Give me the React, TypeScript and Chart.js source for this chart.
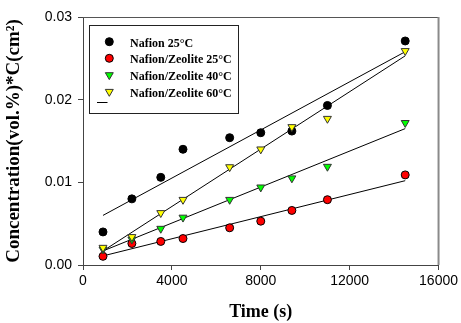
import React, { useEffect, useRef } from 'react';
import { Chart, registerables } from 'chart.js';

Chart.register(...registerables);

// ---- data ----
const timeS = [900, 2200, 3500, 4500, 6600, 8000, 9400, 11000, 14500];
const nafion25 = [0.004, 0.008, 0.0106, 0.014, 0.0154, 0.016, 0.0162, 0.0193, 0.0271];
const nz25 = [0.00105, 0.0026, 0.00285, 0.0032, 0.0045, 0.0053, 0.0066, 0.0079, 0.0109];
const nz40 = [0.0019, 0.0031, 0.0044, 0.00575, 0.0079, 0.0094, 0.0105, 0.0119, 0.0172];
const nz60 = [0.0021, 0.0034, 0.0063, 0.0079, 0.01185, 0.014, 0.0167, 0.0177, 0.0259];

// regression lines (end points)
const fitX = [900, 14500];
const fitNafion25 = [0.006, 0.0258];
const fitNz25 = [0.0011, 0.0102];
const fitNz40 = [0.0017, 0.0165];
const fitNz60 = [0.0017, 0.0253];

const seriesLabels = ['Nafion 25°C', 'Nafion/Zeolite 25°C', 'Nafion/Zeolite 40°C', 'Nafion/Zeolite 60°C'];
const xTickValues = [0, 4000, 8000, 12000, 16000];
const yTickValues = [0, 0.01, 0.02, 0.03];

const xTitle = 'Time (s)';
const yTitle = 'Concentration(vol.%)*C(cm²)';

const pts = (ys: number[]) => ys.map((y, i) => ({ x: timeS[i], y }));
const fit = (ys: number[]) => ys.map((y, i) => ({ x: fitX[i], y }));

const markerStyles = [
  { style: 'circle', fill: '#000000', stroke: '#000000', radius: 4, rotation: 0 },
  { style: 'circle', fill: '#ff0000', stroke: '#000000', radius: 4, rotation: 0 },
  { style: 'triangle', fill: '#00ff00', stroke: '#333333', radius: 4.6, rotation: 180 },
  { style: 'triangle', fill: '#ffff00', stroke: '#333333', radius: 4.6, rotation: 180 },
];

function drawMarker(ctx: CanvasRenderingContext2D, m: any, x: number, y: number) {
  ctx.save();
  ctx.fillStyle = m.fill;
  ctx.strokeStyle = m.stroke;
  ctx.lineWidth = 1;
  ctx.beginPath();
  if (m.style === 'circle') {
    ctx.arc(x, y, m.radius, 0, Math.PI * 2);
  } else {
    let rad = (m.rotation * Math.PI) / 180;
    const r = m.radius;
    ctx.moveTo(x + Math.sin(rad) * r, y - Math.cos(rad) * r);
    rad += (2 * Math.PI) / 3;
    ctx.lineTo(x + Math.sin(rad) * r, y - Math.cos(rad) * r);
    rad += (2 * Math.PI) / 3;
    ctx.lineTo(x + Math.sin(rad) * r, y - Math.cos(rad) * r);
    ctx.closePath();
  }
  ctx.fill();
  ctx.stroke();
  ctx.restore();
}

const framePlugin = {
  id: 'frame',
  afterDraw(chart: any) {
    const { ctx, chartArea } = chart;
    ctx.save();
    ctx.strokeStyle = '#555555';
    ctx.lineWidth = 1;
    ctx.beginPath();
    ctx.moveTo(chartArea.left, chartArea.top + 0.5);
    ctx.lineTo(chartArea.right, chartArea.top + 0.5);
    ctx.stroke();
    ctx.strokeStyle = '#8a8a8a';
    ctx.lineWidth = 2;
    ctx.beginPath();
    ctx.moveTo(chartArea.right, chartArea.top);
    ctx.lineTo(chartArea.right, chartArea.bottom);
    ctx.stroke();
    ctx.restore();
  },
};

const legendPlugin = {
  id: 'boxLegend',
  afterDraw(chart: any) {
    const ctx = chart.ctx as CanvasRenderingContext2D;
    const bx = 89.5, by = 25.5, bw = 149, bh = 88;
    ctx.save();
    ctx.fillStyle = '#ffffff';
    ctx.fillRect(bx, by, bw, bh);
    ctx.strokeStyle = '#222222';
    ctx.lineWidth = 1;
    ctx.strokeRect(bx, by, bw, bh);
    const rowY = [41.7, 58.3, 75, 91.7];
    ctx.font = 'bold 12px "Liberation Serif", "Times New Roman", serif';
    ctx.fillStyle = '#000000';
    ctx.textBaseline = 'alphabetic';
    ctx.textAlign = 'left';
    seriesLabels.forEach((label, i) => {
      drawMarker(ctx, markerStyles[i], 109.3, rowY[i]);
      ctx.fillStyle = '#000000';
      ctx.fillText(label, 130, rowY[i] + 5);
    });
    ctx.strokeStyle = '#000000';
    ctx.lineWidth = 1;
    ctx.beginPath();
    ctx.moveTo(97, 102.5);
    ctx.lineTo(107.5, 102.5);
    ctx.stroke();
    ctx.restore();
  },
};

export default function App() {
  const canvasRef = useRef<HTMLCanvasElement | null>(null);

  useEffect(() => {
    document.body.style.margin = '0';
    const canvas = canvasRef.current;
    if (!canvas) return;

    const seriesData = [nafion25, nz25, nz40, nz60];
    const fitData = [fitNafion25, fitNz25, fitNz40, fitNz60];

    const scatterSets = seriesData.map((ys, i) => ({
      type: 'scatter' as const,
      label: seriesLabels[i],
      data: pts(ys),
      showLine: false,
      pointStyle: markerStyles[i].style,
      pointRotation: markerStyles[i].rotation,
      pointRadius: markerStyles[i].radius,
      pointBackgroundColor: markerStyles[i].fill,
      pointBorderColor: markerStyles[i].stroke,
      pointBorderWidth: 1,
      order: 3 - i,
    }));
    const fitSets = fitData.map((ys, i) => ({
      type: 'line' as const,
      label: 'fit ' + seriesLabels[i],
      data: fit(ys),
      borderColor: '#000000',
      borderWidth: 1,
      pointRadius: 0,
      fill: false,
      order: 10 + i,
    }));

    const axisColor = '#444444';
    const chart = new Chart(canvas, {
      type: 'scatter',
      data: { datasets: [...scatterSets, ...fitSets] as any },
      plugins: [framePlugin, legendPlugin],
      options: {
        animation: false,
        responsive: false,
        maintainAspectRatio: false,
        devicePixelRatio: 1,
        layout: { padding: { top: 17, right: 22, left: 0, bottom: 0 } },
        plugins: { legend: { display: false }, tooltip: { enabled: false } },
        scales: {
          x: {
            type: 'linear',
            min: 0,
            max: 16000,
            afterBuildTicks: (scale: any) => {
              scale.ticks = xTickValues.map((v) => ({ value: v }));
            },
            afterFit: (scale: any) => {
              scale.height = 58;
            },
            ticks: {
              color: '#000000',
              padding: 3,
              maxRotation: 0,
              font: { family: '"Liberation Sans", Arial, sans-serif', size: 14 },
              callback: (v: any) => String(v),
            },
            grid: { drawOnChartArea: false, drawTicks: true, tickLength: 5, color: axisColor },
            border: { display: true, color: axisColor, width: 1 },
            title: {
              display: true,
              text: xTitle,
              color: '#000000',
              font: { family: '"Liberation Serif", "Times New Roman", serif', size: 18, weight: 'bold' },
              padding: { top: 0, bottom: 0 },
            },
          },
          y: {
            type: 'linear',
            min: 0,
            max: 0.03,
            afterBuildTicks: (scale: any) => {
              scale.ticks = yTickValues.map((v) => ({ value: v }));
            },
            afterFit: (scale: any) => {
              scale.width = 83;
            },
            ticks: {
              color: '#000000',
              padding: 6,
              font: { family: '"Liberation Sans", Arial, sans-serif', size: 14 },
              callback: (v: any) => Number(v).toFixed(2),
            },
            grid: { drawOnChartArea: false, drawTicks: true, tickLength: 5, color: axisColor },
            border: { display: true, color: axisColor, width: 1 },
            title: {
              display: true,
              text: yTitle,
              color: '#000000',
              font: { family: '"Liberation Serif", "Times New Roman", serif', size: 19, weight: 'bold' },
              padding: { top: 3, bottom: 0 },
            },
          },
        },
      } as any,
    });
    return () => chart.destroy();
  }, []);

  return (
    <div style={{ width: 461, height: 323, position: 'relative', overflow: 'hidden', background: '#ffffff' }}>
      <canvas ref={canvasRef} width={461} height={323} style={{ display: 'block', width: 461, height: 323 }} />
    </div>
  );
}
